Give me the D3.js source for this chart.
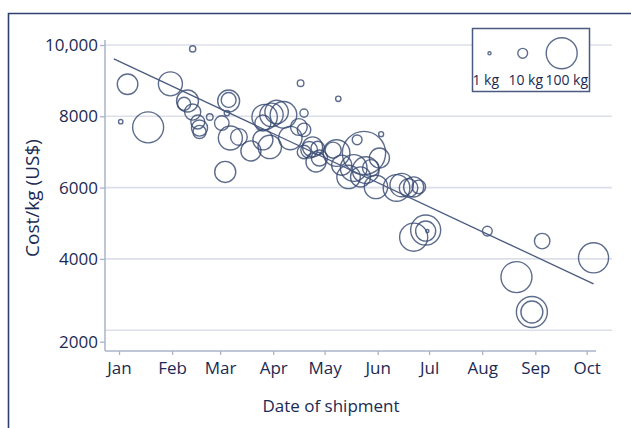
<!DOCTYPE html>
<html>
<head>
<meta charset="utf-8">
<script src="https://cdn.jsdelivr.net/npm/d3@7"></script>
<style>
  body { margin: 0; background: #fff; }
  svg { display: block; }
  text { font-family: "Open Sans", sans-serif; fill: #1b2a52; }
</style>
</head>
<body>
<svg id="chart" width="631" height="428"></svg>
<script>
// Shipments: date, cost per kg (US$) and shipment weight (kg)
const shipDates = [
  "2021-01-06","2021-01-02","2021-01-18","2021-02-13","2021-01-31","2021-02-10","2021-02-08",
  "2021-02-13","2021-02-16","2021-02-17","2021-02-17","2021-02-23","2021-03-06","2021-03-06",
  "2021-03-04","2021-03-02","2021-03-05","2021-03-07","2021-03-12","2021-03-19","2021-03-26",
  "2021-03-26","2021-03-27","2021-03-31","2021-04-03","2021-04-07","2021-03-30","2021-04-11",
  "2021-04-16","2021-04-19","2021-04-17","2021-04-19","2021-04-22","2021-04-19","2021-04-24",
  "2021-04-27","2021-04-28","2021-04-26","2021-05-06","2021-05-08","2021-05-09","2021-05-24",
  "2021-05-20","2021-06-03","2021-05-18","2021-05-25","2021-05-28","2021-05-31","2021-05-11",
  "2021-05-15","2021-05-22","2021-06-02","2021-06-12","2021-06-19","2021-06-15","2021-06-22",
  "2021-06-25","2021-06-22","2021-06-29","2021-06-29","2021-06-30","2021-07-31","2021-08-04",
  "2021-08-21","2021-08-30","2021-08-30","2021-09-05","2021-10-05"
];
const costPerKg = [
  8900, 7850, 7690, 9890, 8910, 8430, 8350,
  8120, 7840, 7670, 7560, 7980, 8430, 8460,
  6440, 7810, 8090, 7390, 7420, 7030, 7340,
  7810, 7980, 8040, 8120, 8040, 7140, 7390,
  7700, 8090, 8930, 7620, 7060, 7000, 7140,
  7110, 6830, 6720, 7050, 6970, 8490, 6970,
  7340, 7500, 6550, 6490, 6550, 6020, 6630,
  6300, 6300, 6830, 5990, 5990, 6070, 6020,
  6020, 4610, 4810, 4780, 4780, 9100, 4780,
  3490, 2510, 2510, 4500, 4030
];
const weightKg = [
  44, 2, 100, 4, 60, 50, 18,
  27, 20, 27, 18, 4.5, 50, 23,
  46, 22, 3, 60, 29, 42, 42,
  27, 67, 57, 57, 74, 57, 57,
  29, 7, 4.5, 19, 29, 19, 42,
  19, 27, 42, 27, 74, 3, 195,
  10, 2.6, 74, 74, 29, 57, 42,
  57, 42, 42, 74, 36, 57, 42,
  19, 82, 94, 42, 1, 2.6, 10,
  100, 100, 50, 25, 94
];

// Fitted trend line end points
const trendDates = ["2020-12-29", "2021-10-05"];
const trendCost = [9610, 3300];

const yTickValues = [2000, 4000, 6000, 8000, 10000];
const legendKg = [1, 10, 100];
const legendLabels = ["1 kg", "10 kg", "100 kg"];

const parse = d3.timeParse("%Y-%m-%d");
const shipments = shipDates.map((d, i) => ({ date: parse(d), cost: costPerKg[i], kg: weightKg[i] }));
const trend = trendDates.map((d, i) => ({ date: parse(d), cost: trendCost[i] }));

const svg = d3.select("#chart");
const ink = "#1b2a52";
const axisColor = "#aab3c9";
const gridColor = "#dcdfe9";
const markColor = "#34476f";

const plot = { left: 105, right: 596, top: 40, bottom: 351, gridRight: 612 };

const x = d3.scaleTime()
  .domain([parse("2021-01-01"), parse("2021-10-01")])
  .range([119, 586.7]);
const y = d3.scaleLinear()
  .domain([2000, 10000])
  .range([330.2, 45]);
const r = d3.scaleSqrt().domain([0, 100]).range([0, 15.5]);

// Outer frame
svg.append("path")
  .attr("d", "M8.5,428V13.5H631")
  .attr("fill", "none")
  .attr("stroke", "#2c4170")
  .attr("stroke-width", 1.6);

// Horizontal gridlines
svg.append("g").selectAll("line")
  .data(yTickValues)
  .join("line")
  .attr("x1", plot.left).attr("x2", plot.gridRight)
  .attr("y1", d => y(d)).attr("y2", d => y(d))
  .attr("stroke", gridColor)
  .attr("stroke-width", 1.6);

// Y axis
const yAxis = svg.append("g")
  .attr("transform", `translate(${plot.left},0)`)
  .call(d3.axisLeft(y)
    .tickValues(yTickValues)
    .tickSize(5)
    .tickPadding(2)
    .tickFormat(d => d >= 10000 ? d3.format(",")(d) : d3.format("d")(d)));
yAxis.select(".domain").remove();
yAxis.selectAll(".tick line").attr("stroke", axisColor).attr("stroke-width", 1.3);
yAxis.selectAll(".tick text").attr("font-size", 17).attr("fill", ink);
// lowest tick sits on the axis foot, below its gridline
yAxis.selectAll(".tick").filter(d => d === 2000)
  .attr("transform", d => `translate(0,${y(d) + 12})`);
svg.append("line")
  .attr("x1", plot.left).attr("x2", plot.left)
  .attr("y1", plot.top).attr("y2", plot.bottom)
  .attr("stroke", axisColor).attr("stroke-width", 1.5);

// X axis
const xAxis = svg.append("g")
  .attr("transform", `translate(0,${plot.bottom})`)
  .call(d3.axisBottom(x)
    .ticks(d3.timeMonth.every(1))
    .tickSize(4)
    .tickPadding(7)
    .tickFormat(d3.timeFormat("%b")));
xAxis.select(".domain").remove();
xAxis.selectAll(".tick line").attr("stroke", axisColor).attr("stroke-width", 1.3);
xAxis.selectAll(".tick text").attr("font-size", 17).attr("fill", ink);
svg.append("line")
  .attr("x1", plot.left).attr("x2", plot.right)
  .attr("y1", plot.bottom).attr("y2", plot.bottom)
  .attr("stroke", axisColor).attr("stroke-width", 1.5);

// Axis titles
svg.append("text")
  .attr("x", 331).attr("y", 412)
  .attr("text-anchor", "middle")
  .attr("font-size", 17)
  .text("Date of shipment");
svg.append("text")
  .attr("transform", "translate(39,198) rotate(-90)")
  .attr("text-anchor", "middle")
  .attr("font-size", 19)
  .text("Cost/kg (US$)");

// Shipment bubbles
svg.append("g").selectAll("circle")
  .data(shipments)
  .join("circle")
  .attr("cx", d => x(d.date))
  .attr("cy", d => y(d.cost))
  .attr("r", d => r(d.kg))
  .attr("fill", "none")
  .attr("stroke", markColor)
  .attr("stroke-opacity", 0.8)
  .attr("stroke-width", 1.4);

// Trend line
svg.append("path")
  .datum(trend)
  .attr("d", d3.line().x(d => x(d.date)).y(d => y(d.cost)))
  .attr("fill", "none")
  .attr("stroke", "#4a5a80")
  .attr("stroke-width", 1.3);

// Size legend
const legend = svg.append("g").attr("transform", "translate(472,28)");
legend.append("rect")
  .attr("x", 0.5).attr("y", 0.5)
  .attr("width", 117).attr("height", 63)
  .attr("fill", "#fff")
  .attr("stroke", "#4a5a80")
  .attr("stroke-width", 1.5);
const legendCx = [17.5, 50.7, 89.7];
const legendTx = [13.7, 53.7, 94.7];
legend.selectAll("circle")
  .data(legendKg)
  .join("circle")
  .attr("cx", (d, i) => legendCx[i])
  .attr("cy", 25.3)
  .attr("r", d => r(d))
  .attr("fill", "none")
  .attr("stroke", markColor)
  .attr("stroke-opacity", 0.8)
  .attr("stroke-width", 1.4);
legend.selectAll("text")
  .data(legendLabels)
  .join("text")
  .attr("x", (d, i) => legendTx[i])
  .attr("y", 57)
  .attr("text-anchor", "middle")
  .attr("font-size", 14)
  .text(d => d);
</script>
</body>
</html>
